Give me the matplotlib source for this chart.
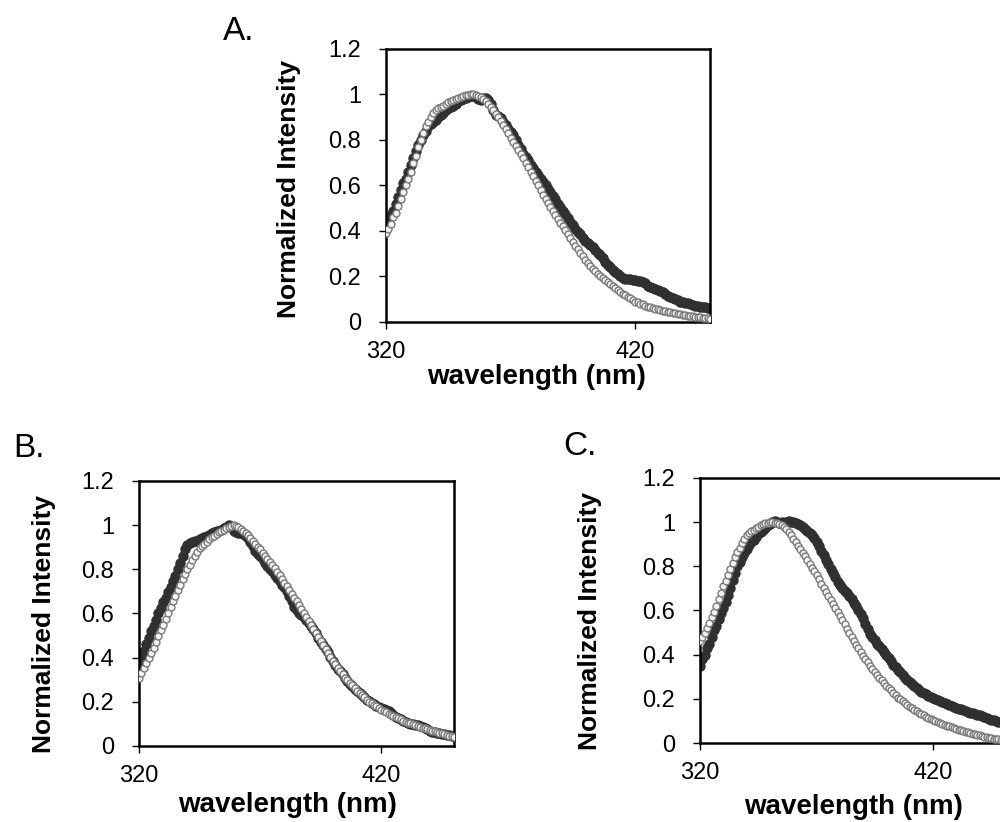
import matplotlib
matplotlib.use("Agg")
import matplotlib.pyplot as plt
import numpy as np

plt.rcParams['font.family'] = ['Liberation Sans', 'DejaVu Sans']

# wavelength grid, 1 nm steps
wl = np.arange(320, 451)

# panel A
a_open = [0.39, 0.41, 0.43, 0.46, 0.48, 0.51,
          0.54, 0.57, 0.60, 0.63, 0.66,
          0.70, 0.73, 0.77, 0.80, 0.83,
          0.86, 0.88, 0.90, 0.92, 0.93,
          0.94, 0.945, 0.95, 0.96, 0.965,
          0.97, 0.975, 0.98, 0.985, 0.99,
          0.993, 0.996, 0.998, 1.0, 1.0,
          0.998, 0.995, 0.99, 0.98, 0.97,
          0.96, 0.945, 0.93, 0.915, 0.90,
          0.883, 0.865, 0.847, 0.829, 0.81,
          0.792, 0.774, 0.756, 0.738, 0.72,
          0.70, 0.68, 0.66, 0.64, 0.62,
          0.60, 0.58, 0.56, 0.54, 0.522,
          0.505, 0.488, 0.471, 0.454, 0.437,
          0.42, 0.403, 0.386, 0.369, 0.352,
          0.336, 0.32, 0.304, 0.288, 0.273,
          0.26, 0.247, 0.234, 0.222, 0.21,
          0.201, 0.192, 0.183, 0.174, 0.165,
          0.157, 0.149, 0.141, 0.133, 0.125,
          0.118, 0.111, 0.104, 0.097, 0.09,
          0.086, 0.081, 0.077, 0.072, 0.068,
          0.065, 0.062, 0.058, 0.055, 0.052,
          0.05, 0.047, 0.045, 0.042, 0.04,
          0.038, 0.036, 0.034, 0.032, 0.03,
          0.028, 0.027, 0.025, 0.024, 0.022,
          0.021, 0.019, 0.018, 0.016, 0.015]
a_dark = [0.42, 0.44, 0.47, 0.49, 0.52, 0.55,
          0.58, 0.61, 0.63, 0.66, 0.69,
          0.72, 0.75, 0.78, 0.80, 0.82,
          0.84, 0.86, 0.87, 0.88, 0.89,
          0.90, 0.91, 0.92, 0.93, 0.94,
          0.945, 0.95, 0.96, 0.97, 0.975,
          0.98, 0.985, 0.99, 0.995, 0.995,
          0.99, 0.98, 0.975, 0.985, 0.985,
          0.975, 0.96, 0.93, 0.91, 0.905,
          0.895, 0.88, 0.865, 0.85, 0.835,
          0.82, 0.80, 0.78, 0.76, 0.74,
          0.725, 0.71, 0.69, 0.675, 0.66,
          0.645, 0.63, 0.615, 0.60, 0.585,
          0.57, 0.555, 0.54, 0.52, 0.505,
          0.49, 0.475, 0.455, 0.44, 0.425,
          0.41, 0.395, 0.385, 0.37, 0.355,
          0.345, 0.34, 0.33, 0.315, 0.305,
          0.295, 0.28, 0.265, 0.25, 0.24,
          0.23, 0.22, 0.21, 0.20, 0.195,
          0.19, 0.19, 0.188, 0.185, 0.185,
          0.18, 0.18, 0.175, 0.17, 0.16,
          0.155, 0.15, 0.145, 0.14, 0.135,
          0.13, 0.125, 0.115, 0.11, 0.105,
          0.10, 0.095, 0.09, 0.088, 0.085,
          0.082, 0.078, 0.075, 0.072, 0.07,
          0.068, 0.066, 0.064, 0.062, 0.06]

# panel B
b_open = [0.31, 0.33, 0.355, 0.375, 0.40, 0.42,
          0.445, 0.47, 0.50, 0.525, 0.55,
          0.575, 0.60, 0.63, 0.655, 0.68,
          0.705, 0.73, 0.755, 0.78, 0.80,
          0.82, 0.84, 0.86, 0.88, 0.895,
          0.905, 0.915, 0.925, 0.935, 0.945,
          0.953, 0.96, 0.967, 0.974, 0.98,
          0.985, 0.99, 0.995, 1.0, 0.998,
          0.99, 0.982, 0.974, 0.965, 0.955,
          0.942, 0.929, 0.916, 0.903, 0.89,
          0.876, 0.862, 0.848, 0.834, 0.82,
          0.804, 0.788, 0.772, 0.756, 0.74,
          0.723, 0.706, 0.689, 0.672, 0.655,
          0.637, 0.619, 0.601, 0.583, 0.565,
          0.547, 0.529, 0.511, 0.493, 0.475,
          0.457, 0.439, 0.421, 0.403, 0.385,
          0.37, 0.355, 0.34, 0.325, 0.31,
          0.298, 0.286, 0.274, 0.262, 0.25,
          0.24, 0.23, 0.22, 0.21, 0.20,
          0.193, 0.186, 0.179, 0.172, 0.165,
          0.159, 0.153, 0.147, 0.141, 0.135,
          0.13, 0.125, 0.12, 0.115, 0.11,
          0.106, 0.102, 0.098, 0.094, 0.09,
          0.087, 0.083, 0.08, 0.076, 0.073,
          0.07, 0.067, 0.063, 0.06, 0.057,
          0.054, 0.05, 0.047, 0.043, 0.04]
b_dark = [0.37, 0.40, 0.43, 0.46, 0.49, 0.52,
          0.545, 0.57, 0.60, 0.625, 0.65,
          0.67, 0.695, 0.72, 0.745, 0.77,
          0.80, 0.83, 0.86, 0.89, 0.91,
          0.92, 0.925, 0.93, 0.93, 0.935,
          0.94, 0.945, 0.95, 0.955, 0.965,
          0.97, 0.975, 0.975, 0.98, 0.985,
          0.99, 1.0, 0.99, 0.975, 0.97,
          0.965, 0.965, 0.96, 0.95, 0.94,
          0.925, 0.905, 0.885, 0.87, 0.86,
          0.845, 0.83, 0.815, 0.80, 0.79,
          0.775, 0.76, 0.745, 0.73, 0.72,
          0.70, 0.68, 0.655, 0.63, 0.615,
          0.60, 0.595, 0.585, 0.57, 0.555,
          0.545, 0.53, 0.51, 0.49, 0.47,
          0.455, 0.44, 0.425, 0.405, 0.385,
          0.365, 0.35, 0.34, 0.325, 0.31,
          0.295, 0.28, 0.27, 0.26, 0.25,
          0.24, 0.23, 0.22, 0.21, 0.205,
          0.195, 0.19, 0.18, 0.175, 0.17,
          0.168, 0.165, 0.16, 0.15, 0.14,
          0.13, 0.125, 0.12, 0.115, 0.11,
          0.105, 0.10, 0.098, 0.097, 0.095,
          0.09, 0.085, 0.08, 0.075, 0.07,
          0.065, 0.062, 0.06, 0.057, 0.055,
          0.052, 0.05, 0.048, 0.046, 0.045]

# panel C
c_open = [0.46, 0.48, 0.50, 0.52, 0.545, 0.57,
          0.595, 0.62, 0.65, 0.68, 0.71,
          0.735, 0.76, 0.79, 0.815, 0.84,
          0.865, 0.885, 0.905, 0.925, 0.94,
          0.95, 0.958, 0.966, 0.973, 0.98,
          0.985, 0.99, 0.995, 0.998, 1.0,
          1.0, 0.998, 0.995, 0.99, 0.985,
          0.977, 0.967, 0.955, 0.94, 0.925,
          0.91, 0.894, 0.878, 0.862, 0.845,
          0.828, 0.811, 0.794, 0.777, 0.76,
          0.741, 0.722, 0.703, 0.684, 0.665,
          0.647, 0.629, 0.611, 0.593, 0.575,
          0.556, 0.537, 0.518, 0.499, 0.48,
          0.463, 0.446, 0.429, 0.412, 0.395,
          0.38, 0.365, 0.35, 0.335, 0.32,
          0.308, 0.296, 0.284, 0.272, 0.26,
          0.249, 0.238, 0.227, 0.216, 0.205,
          0.197, 0.189, 0.181, 0.173, 0.165,
          0.158, 0.151, 0.144, 0.137, 0.13,
          0.125, 0.12, 0.115, 0.11, 0.105,
          0.10, 0.096, 0.091, 0.087, 0.082,
          0.078, 0.075, 0.071, 0.068, 0.064,
          0.061, 0.058, 0.054, 0.051, 0.048,
          0.045, 0.042, 0.04, 0.037, 0.034,
          0.032, 0.029, 0.027, 0.024, 0.022,
          0.02, 0.018, 0.016, 0.014, 0.012]
c_dark = [0.35, 0.38, 0.40, 0.43, 0.45, 0.48,
          0.51, 0.53, 0.56, 0.59, 0.61,
          0.64, 0.67, 0.70, 0.74, 0.77,
          0.80, 0.82, 0.84, 0.86, 0.88,
          0.895, 0.91, 0.92, 0.935, 0.945,
          0.955, 0.965, 0.975, 0.985, 0.99,
          1.0, 1.005, 1.0, 0.995, 1.0,
          0.995, 1.0, 1.005, 1.0, 1.0,
          0.995, 0.99, 0.985, 0.98, 0.97,
          0.96, 0.95, 0.94, 0.93, 0.91,
          0.89, 0.87, 0.85, 0.83, 0.81,
          0.79, 0.77, 0.75, 0.73, 0.715,
          0.70, 0.69, 0.68, 0.665, 0.65,
          0.635, 0.62, 0.60, 0.585, 0.565,
          0.54, 0.515, 0.495, 0.48, 0.465,
          0.45, 0.44, 0.425, 0.41, 0.40,
          0.385, 0.37, 0.355, 0.345, 0.33,
          0.32, 0.31, 0.295, 0.285, 0.275,
          0.265, 0.26, 0.25, 0.24, 0.23,
          0.225, 0.22, 0.215, 0.21, 0.205,
          0.2, 0.195, 0.19, 0.185, 0.18,
          0.176, 0.172, 0.168, 0.164, 0.16,
          0.156, 0.152, 0.148, 0.144, 0.14,
          0.137, 0.134, 0.131, 0.128, 0.125,
          0.121, 0.117, 0.113, 0.109, 0.105,
          0.102, 0.099, 0.096, 0.093, 0.09]

yticks = [0, 0.2, 0.4, 0.6, 0.8, 1.0, 1.2]
ytick_labels = ["0", "0.2", "0.4", "0.6", "0.8", "1", "1.2"]
xticks = [320, 420]

fig = plt.figure(figsize=(10, 8.22), dpi=100)

# [left, bottom, width, height], label positions in axes coords
panels = [
    ("A.", [0.386, 0.6083, 0.324, 0.3321], a_dark, a_open, (0.223, 0.951), (0.466, -0.203), (-0.30, 0.487)),
    ("B.", [0.139, 0.0925, 0.315, 0.3224], b_dark, b_open, (0.013, 0.444), (0.47, -0.223), (-0.302, 0.46)),
    ("C.", [0.700, 0.0961, 0.303, 0.3224], c_dark, c_open, (0.563, 0.4465), (0.508, -0.242), (-0.363, 0.46)),
]

for tag, rect, dark, opn, tagpos, xlpos, ylpos in panels:
    ax = fig.add_axes(rect)
    ax.plot(wl, dark, ls='none', marker='o', ms=6.5, color='#303030', mec='#303030', zorder=2)
    ax.plot(wl, opn, ls='none', marker='o', ms=5, mfc='#f2f2f2', mec='#7a7a7a', mew=1.0, zorder=3)
    ax.set_xlim(320, 450)
    ax.set_ylim(0, 1.2)
    ax.set_xticks(xticks)
    ax.set_yticks(yticks)
    ax.set_yticklabels(ytick_labels)
    for s in ax.spines.values():
        s.set_linewidth(1.8)
        s.set_color('black')
    ax.tick_params(direction='out', length=5, width=1.0, labelsize=17, colors='black')
    ax.tick_params(axis='y', pad=13)
    ax.tick_params(axis='x', pad=9)
    ax.set_xlabel("wavelength (nm)", fontsize=20, fontweight='bold')
    ax.xaxis.set_label_coords(*xlpos)
    ax.xaxis.label.set_va('center')
    ax.set_ylabel("Normalized Intensity", fontsize=19, fontweight='bold')
    ax.yaxis.set_label_coords(*ylpos)
    ax.yaxis.label.set_va('center')
    fig.text(tagpos[0], tagpos[1], tag, fontsize=24, fontweight='light', va='baseline', ha='left')

fig.savefig("out.png", dpi=100)
